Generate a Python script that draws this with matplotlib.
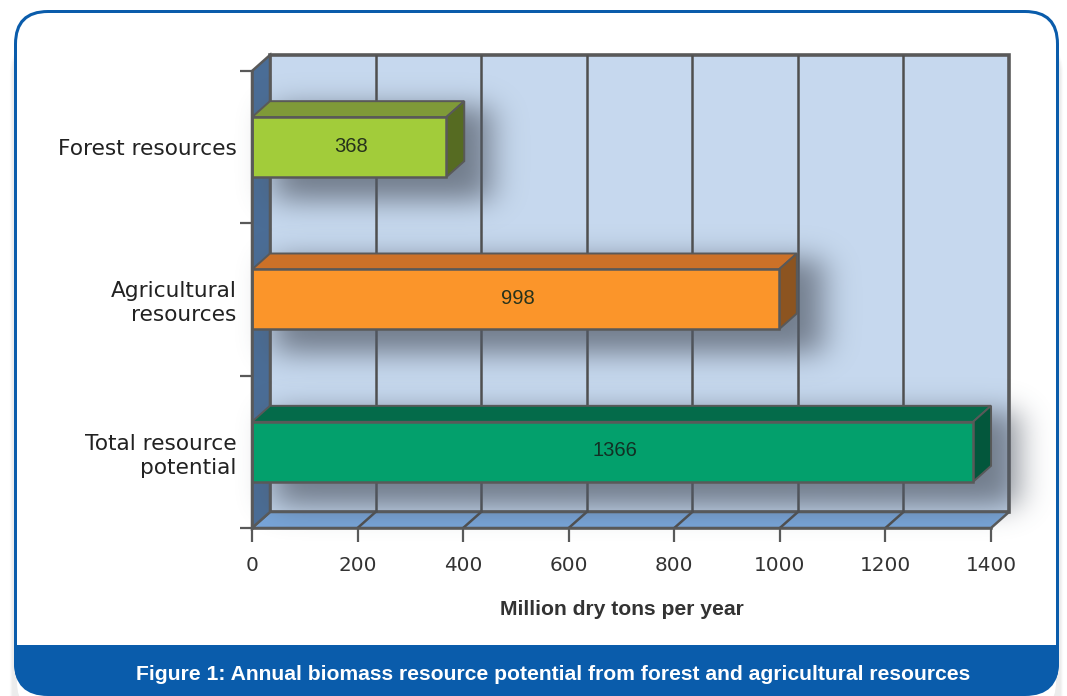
import numpy as np
import matplotlib
matplotlib.use("Agg")
import matplotlib.pyplot as plt
from matplotlib.patches import FancyBboxPatch, Rectangle, Polygon

categories = ["Total resource\npotential", "Agricultural\nresources", "Forest resources"]
values = [1366, 998, 368]
front_colors = ["#03a06c", "#fb952a", "#a2cc3a"]
top_colors = ["#046b4a", "#cc7128", "#7f9a38"]
side_colors = ["#03573c", "#8c5420", "#566b22"]
xticks = [0, 200, 400, 600, 800, 1000, 1200, 1400]
xlabel = "Million dry tons per year"
caption = "Figure 1: Annual biomass resource potential from forest and agricultural resources"

W, H = 1067, 696
plt.rcParams["font.family"] = ["Liberation Sans", "DejaVu Sans"]
fig = plt.figure(figsize=(W / 100, H / 100), dpi=100, facecolor="white")

# panel
bg = fig.add_axes([0, 0, 1, 1])
bg.set_xlim(0, W); bg.set_ylim(H, 0); bg.axis("off")
for grow, a in [(7, .04), (5, .05), (3, .06)]:
    bg.add_patch(FancyBboxPatch((14 - grow * .6, 40), 1045 + grow * 1.2, 700, boxstyle="round,pad=0,rounding_size=34",
                                fc="#808080", ec="none", alpha=a))
outer = FancyBboxPatch((14, 10), 1045, 686, boxstyle="round,pad=0,rounding_size=34", fc="#0a5cab", ec="none")
bg.add_patch(outer)
bg.add_patch(FancyBboxPatch((17, 13), 1039, 700, boxstyle="round,pad=0,rounding_size=31", fc="white", ec="none"))
foot = Rectangle((0, 645), W, 60, fc="#0a5cab", ec="none")
bg.add_patch(foot)
foot.set_clip_path(outer)
bg.text(553, 674, caption, color="white", fontsize=15.2, fontweight="bold", ha="center", va="center")

# chart: front plane of the box
L, R, T, B = 252, 991, 71, 528
ax = fig.add_axes([L / W, 1 - B / H, (R - L) / W, (B - T) / H])
ax.patch.set_visible(False)
xmax = xticks[-1]
ymax = len(categories)
ax.set_xlim(0, xmax); ax.set_ylim(0, ymax)
px_x = xmax / (R - L)
px_y = ymax / (B - T)
dx, dy = 18 * px_x, 16 * px_y
bar_h = 60 * px_y
edge = "#595959"

ax.add_patch(Polygon([(dx, dy), (xmax + dx, dy), (xmax + dx, ymax + dy), (dx, ymax + dy)],
                     fc="#c6d8ee", ec=edge, lw=2.6, clip_on=False, zorder=1, joinstyle="miter"))
ax.add_patch(Polygon([(0, 0), (dx, dy), (xmax + dx, dy), (xmax, 0)],
                     fc="#78a5d9", ec=edge, lw=1.8, clip_on=False, zorder=1.2))
ax.add_patch(Polygon([(0, 0), (dx, dy), (dx, ymax + dy), (0, ymax)],
                     fc="#4a6d96", ec=edge, lw=1.8, clip_on=False, zorder=1.2))
for v in xticks[1:-1]:
    ax.plot([v + dx, v + dx], [dy, ymax + dy], color="#4f4f4f", lw=1.8, clip_on=False, zorder=2, solid_capstyle="butt")
    ax.plot([v, v + dx], [0, dy], color="#4f4f4f", lw=1.8, clip_on=False, zorder=2)


def blurred(grid, lo, hi, sigma):
    pad = int(3 * sigma)
    box = ((grid >= lo) & (grid <= hi)).astype(float)
    r = np.arange(-pad, pad + 1)
    k = np.exp(-0.5 * (r / sigma) ** 2)
    return np.convolve(box, k / k.sum(), mode="same")


for i, (v, fc, tc, sc) in enumerate(zip(values, front_colors, top_colors, side_colors)):
    yc = i + 0.5
    y0, y1 = yc - bar_h / 2, yc + bar_h / 2
    # soft shadow behind the bar
    gx = np.arange(-60 * px_x, v + dx + 120 * px_x, px_x)
    gy = np.arange(y0 - 90 * px_y, y1 + dy + 70 * px_y, px_y)
    fx = blurred(gx, 22 * px_x, v + dx + 26 * px_x, 16)
    fy = blurred(gy, y0 - 24 * px_y, y1 + dy - 6 * px_y, 14)
    alpha = np.outer(fy, fx) * 0.72
    rgba = np.zeros(alpha.shape + (4,))
    rgba[..., :3] = np.array([0.32, 0.35, 0.40])
    rgba[..., 3] = alpha
    im = ax.imshow(rgba, extent=(gx[0], gx[-1], gy[0], gy[-1]), origin="lower", aspect="auto",
                   zorder=3, clip_on=False, interpolation="bilinear")
    # bar
    ax.add_patch(Polygon([(0, y1), (dx, y1 + dy), (v + dx, y1 + dy), (v, y1)], fc=tc, ec=edge, lw=1.4, zorder=4, clip_on=False))
    ax.add_patch(Polygon([(v, y0), (v + dx, y0 + dy), (v + dx, y1 + dy), (v, y1)], fc=sc, ec=edge, lw=1.4, zorder=4, clip_on=False))
    ax.add_patch(Rectangle((0, y0), v, y1 - y0, fc=fc, ec=edge, lw=1.8, zorder=5, clip_on=False))
    ax.text(v / 2 + 2 * px_x, yc + 1 * px_y, str(v), ha="center", va="center", fontsize=14.5, color="#26321c" if i else "#123024",
            zorder=6)

ax.set_xlim(0, xmax); ax.set_ylim(0, ymax)
ax.set_xticks(xticks)
ax.set_xticklabels([str(t) for t in xticks], fontsize=14.4, color="#333333", family="DejaVu Sans")
ax.set_yticks([0.5, 1.5, 2.5])
ax.set_yticklabels(categories, fontsize=15.6, color="#222222", linespacing=1.25, ha="right", family="DejaVu Sans")
ax.set_yticks([0, 1, 2, 3], minor=True)
ax.tick_params(axis="y", which="major", length=0, pad=11)
ax.tick_params(axis="y", which="minor", length=9, width=1.6, color=edge)
ax.tick_params(axis="x", length=10, width=1.6, color=edge, pad=10)
for s in ("top", "right"):
    ax.spines[s].set_visible(False)
for s in ("left", "bottom"):
    ax.spines[s].set_color(edge); ax.spines[s].set_linewidth(1.8); ax.spines[s].set_zorder(7)
ax.set_xlabel(xlabel, fontsize=15.2, fontweight="bold", color="#333333", labelpad=18)

fig.savefig("out.png", dpi=100, facecolor="white")
